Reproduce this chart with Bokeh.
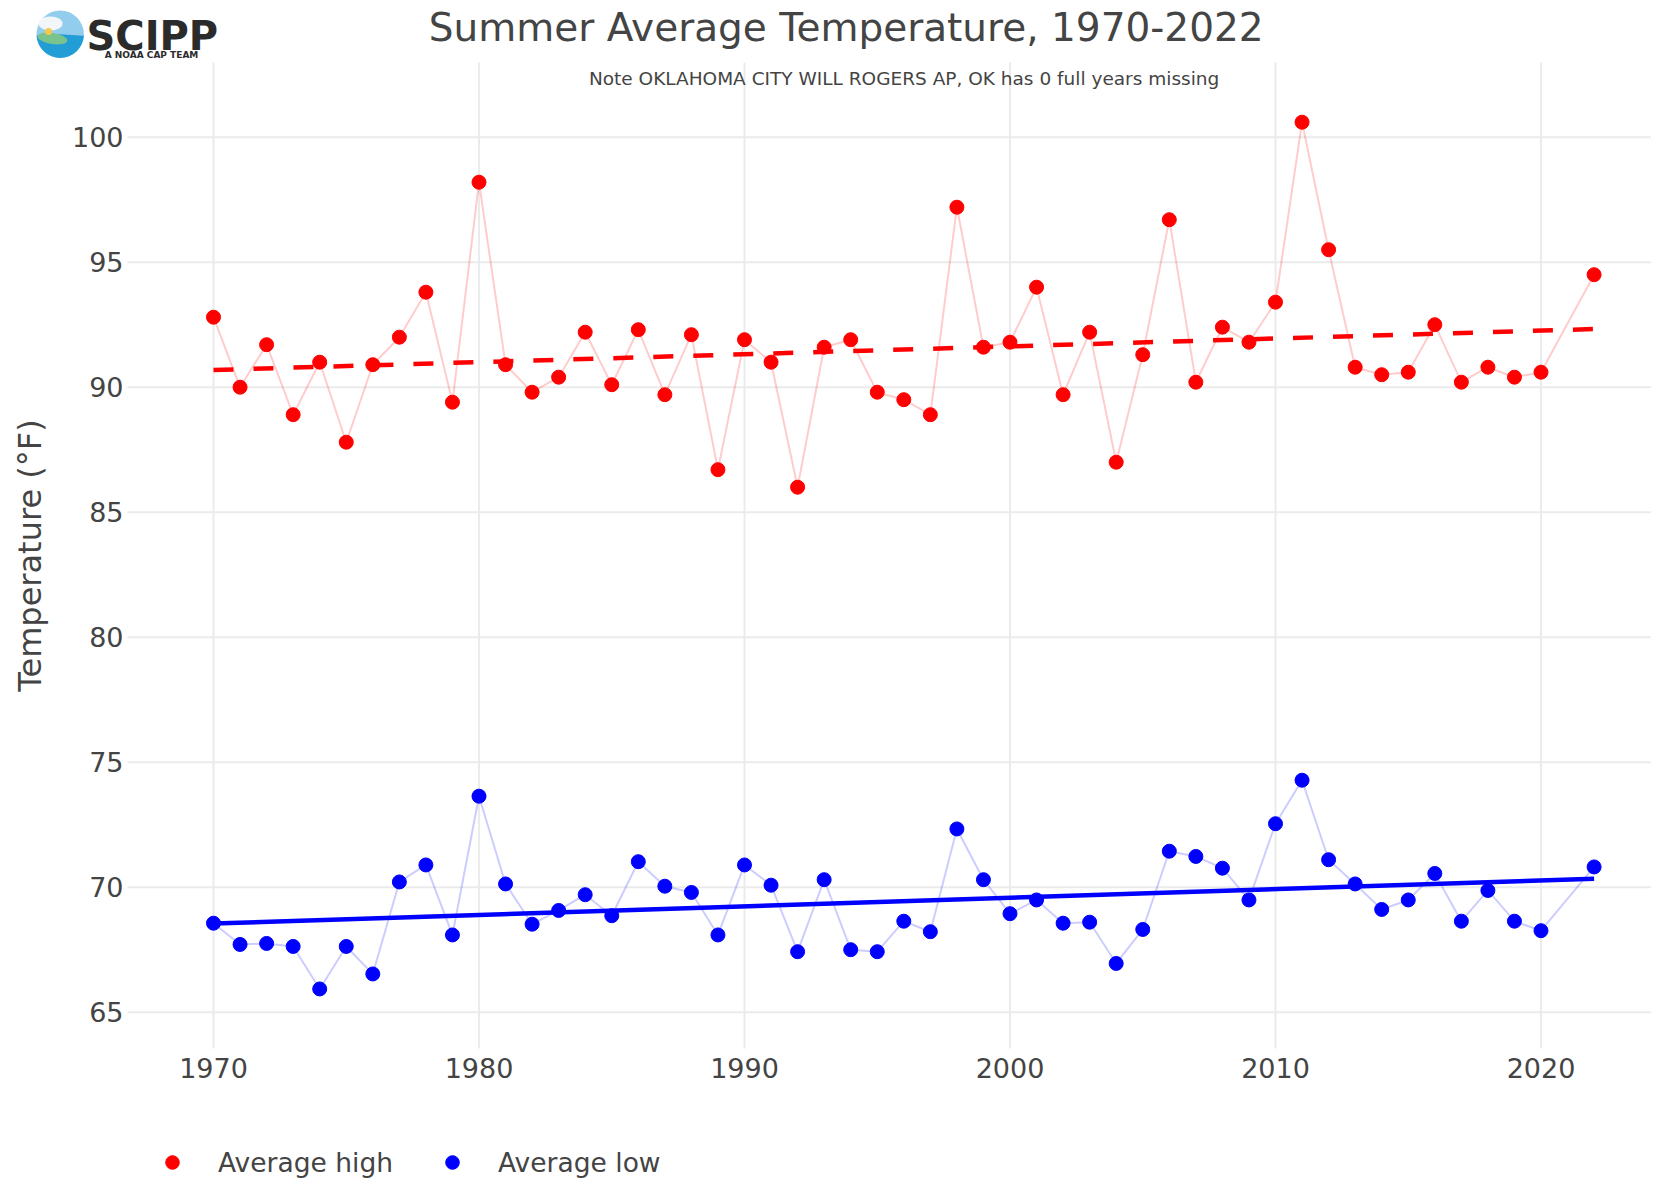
import numpy as np
from bokeh.plotting import figure
from bokeh.models import Label, Legend, LegendItem, Range1d
from bokeh.core.properties import value
from bokeh.embed import file_html
from bokeh.resources import INLINE

# ---------------- data ----------------
years = list(range(1970, 2021)) + [2022]
avg_high = [92.8, 90.0, 91.7, 88.9, 91.0, 87.8, 90.9, 92.0, 93.8, 89.4,
            98.2, 90.9, 89.8, 90.4, 92.2, 90.1, 92.3, 89.7, 92.1, 86.7,
            91.9, 91.0, 86.0, 91.6, 91.9, 89.8, 89.5, 88.9, 97.2, 91.6,
            91.8, 94.0, 89.7, 92.2, 87.0, 91.3, 96.7, 90.2, 92.4, 91.8,
            93.4, 100.6, 95.5, 90.8, 90.5, 90.6, 92.5, 90.2, 90.8, 90.4,
            90.6, 94.5]
avg_low = [68.56, 67.71, 67.75, 67.63, 65.93, 67.63, 66.53, 70.21, 70.89, 68.09,
           73.64, 70.13, 68.52, 69.07, 69.70, 68.86, 71.02, 70.04, 69.79, 68.09,
           70.89, 70.08, 67.42, 70.30, 67.50, 67.42, 68.64, 68.22, 72.33, 70.30,
           68.94, 69.49, 68.56, 68.60, 66.95, 68.31, 71.44, 71.23, 70.76, 69.49,
           72.54, 74.28, 71.10, 70.13, 69.11, 69.49, 70.55, 68.64, 69.87, 68.64,
           68.26, 70.81]
x_ticks = [1970, 1980, 1990, 2000, 2010, 2020]
y_ticks = [65, 70, 75, 80, 85, 90, 95, 100]

title_text = "Summer Average Temperature, 1970-2022"
note_text = "Note OKLAHOMA CITY WILL ROGERS AP, OK has 0 full years missing"
y_label = "Temperature (°F)"
series_names = ["Average high", "Average low"]
logo_text = "SCIPP"
logo_sub = "A NOAA CAP TEAM"

FONT = "DejaVu Sans"
TXT = "#444444"

W, H = 1651, 1180
# pixel layout of the plotting area (figure pixels, from top-left)
KX = 26.55          # px per year
X1970 = 213.0       # px of year 1970
KY = 25.0           # px per degree
Y100 = 136.7        # px of 100 degF
PLOT_L, PLOT_T, PLOT_B = 127, 62, 1048


def dx(px):
    return 1970 + (px - X1970) / KX


def dy(py):
    return 100 + (Y100 - py) / KY


p = figure(width=W, height=H, output_backend="svg", toolbar_location=None,
           x_range=Range1d(dx(0), dx(W)), y_range=Range1d(dy(H), dy(0)),
           x_axis_location=None, y_axis_location=None,
           min_border=0, min_border_left=0, min_border_right=0,
           min_border_top=0, min_border_bottom=0, title=None)
p.outline_line_color = None
p.background_fill_color = "white"
p.border_fill_color = "white"
p.grid.grid_line_color = None

# gridlines (plotly style, only inside the plotting area)
p.segment(x0=x_ticks, x1=x_ticks, y0=dy(PLOT_B), y1=dy(PLOT_T),
          line_color="#ebebeb", line_width=2)
p.segment(x0=dx(PLOT_L), x1=dx(W), y0=y_ticks, y1=y_ticks,
          line_color="#ebebeb", line_width=2)

# tick labels
p.text(x=dx(123), y=y_ticks, text=[str(t) for t in y_ticks],
       text_align="right", text_baseline="middle",
       text_font=value(FONT), text_font_size=value("27px"), text_color=TXT)
p.text(x=x_ticks, y=dy(1067), text=[str(t) for t in x_ticks],
       text_align="center", text_baseline="middle",
       text_font=value(FONT), text_font_size=value("27px"), text_color=TXT)

# connecting lines
p.line(years, avg_high, line_color="red", line_alpha=0.2, line_width=2)
p.line(years, avg_low, line_color="blue", line_alpha=0.2, line_width=2)
# markers
r_high = p.scatter(years, avg_high, size=14, fill_color="red", line_color="red")
r_low = p.scatter(years, avg_low, size=14, fill_color="blue", line_color="blue")

# trend lines (least squares)
tx = np.array([years[0], years[-1]], dtype=float)
ch = np.polyfit(years, avg_high, 1)
cl = np.polyfit(years, avg_low, 1)
p.line(tx, np.polyval(ch, tx), line_color="red", line_width=4.5, line_dash="20 20")
p.line(tx, np.polyval(cl, tx), line_color="blue", line_width=4.5)

# title, note, axis title
p.add_layout(Label(x=dx(845.7), y=dy(27), text=title_text, text_align="center",
                   text_baseline="alphabetic", text_font=FONT, text_font_size="39px",
                   text_color=TXT))
p.add_layout(Label(x=dx(903.6), y=dy(77.6), text=note_text, text_align="center",
                   text_baseline="middle", text_font=FONT, text_font_size="18.5px",
                   text_color=TXT))
p.add_layout(Label(x=dx(29.8), y=dy(555), text=y_label, text_align="center",
                   text_baseline="middle", angle=np.pi / 2, text_font=FONT,
                   text_font_size="32px", text_color=TXT))

# logo (approximation of the SCIPP badge)
cx, cy = dx(59.7), dy(33.7)
p.circle(x=[cx], y=[cy], radius=23.7, radius_units="screen",
         fill_color="#93cdee", line_color=None)
p.wedge(x=[cx], y=[cy], radius=23.7, radius_units="screen",
        start_angle=np.pi * 1.02, end_angle=np.pi * 1.98,
        fill_color="#239dd6", line_color=None)
p.ellipse(x=[dx(52)], y=[dy(38)], width=30, height=11, angle=-0.15,
          width_units="screen", height_units="screen",
          fill_color="#79c38c", line_color=None)
p.ellipse(x=[dx(50)], y=[dy(23)], width=24, height=14,
          width_units="screen", height_units="screen",
          fill_color="#f3f6f8", line_color=None)
p.circle(x=[dx(48)], y=[dy(31)], radius=3.5, radius_units="screen",
         fill_color="#f2c94c", line_color=None)
p.add_layout(Label(x=dx(86), y=dy(35), text=logo_text, text_align="left",
                   text_baseline="alphabetic", text_font=FONT, text_font_size="40px",
                   text_font_style="bold", text_color="#2b2b2b"))
p.add_layout(Label(x=dx(151), y=dy(54), text=logo_sub, text_align="center",
                   text_baseline="alphabetic", text_font=FONT, text_font_size="9px",
                   text_font_style="bold", text_color="#2b2b2b"))

legend = Legend(items=[LegendItem(label=series_names[0], renderers=[r_high]),
                       LegendItem(label=series_names[1], renderers=[r_low])],
                orientation="horizontal", location=(155, 1),
                label_text_font=FONT, label_text_font_size="26.5px", label_text_color=TXT,
                border_line_color=None, background_fill_alpha=0, padding=0, margin=0,
                spacing=42, label_standoff=29, glyph_width=34, glyph_height=34,
                label_height=34)
p.add_layout(legend, "center")

open("out.html", "w").write(file_html(p, INLINE))
